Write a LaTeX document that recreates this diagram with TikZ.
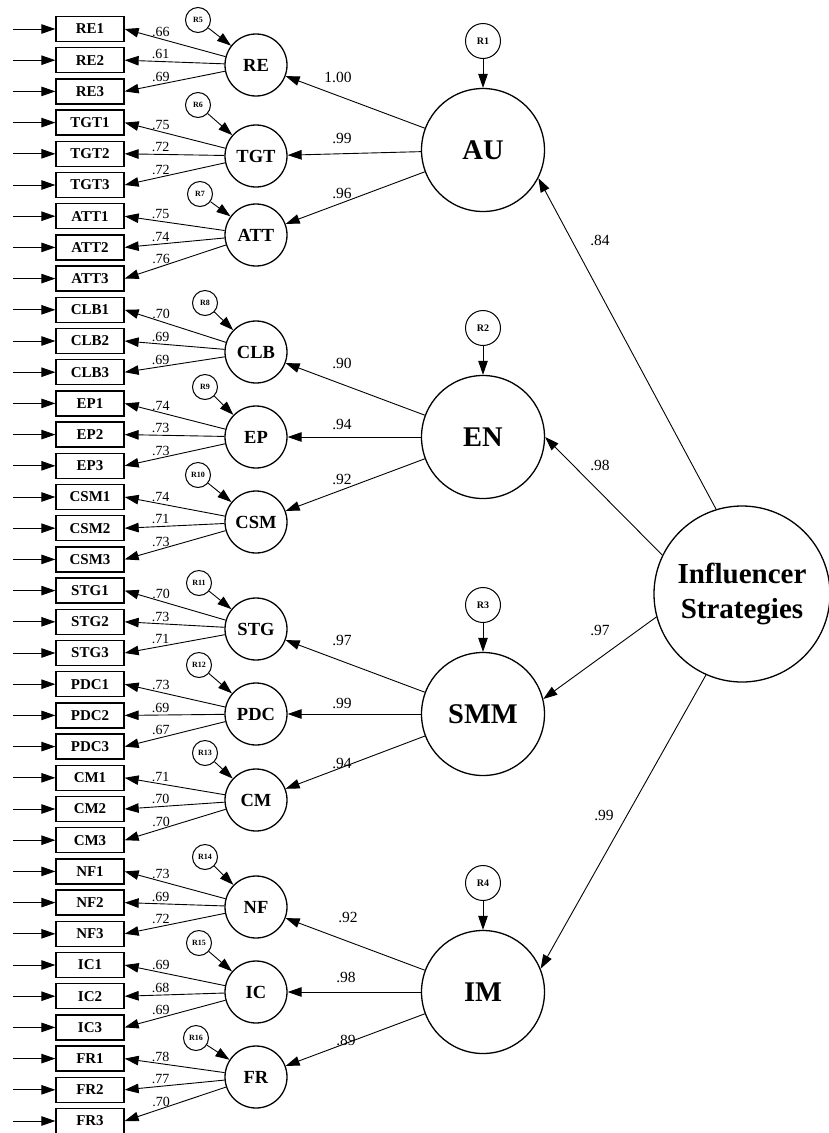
\documentclass[tikz,border=0pt]{standalone}
\usepackage{fontspec}
\setmainfont{Liberation Serif}
\usetikzlibrary{arrows.meta}
\tikzset{>={Triangle[length=14pt,width=9.5pt]},
  ind/.style={draw,line width=1.3pt,minimum width=68pt,minimum height=25pt,inner sep=0pt,font=\bfseries\fontsize{15}{15}\selectfont},
  fac/.style={circle,draw,line width=1.3pt,minimum size=62pt,inner sep=0pt,font=\bfseries\fontsize{18.5}{18.5}\selectfont},
  err/.style={circle,draw,line width=1pt,minimum size=25pt,inner sep=0pt,font=\bfseries\fontsize{8}{8}\selectfont},
  bigerr/.style={err,minimum size=35pt,font=\bfseries\fontsize{10}{10}\selectfont},
  big/.style={circle,draw,line width=1.3pt,minimum size=123pt,inner sep=0pt,font=\bfseries\fontsize{28.5}{28.5}\selectfont},
  top/.style={circle,draw,line width=1.3pt,minimum size=176pt,inner sep=0pt,align=center,font=\bfseries\fontsize{29}{35}\selectfont},
  num/.style={font=\fontsize{14}{14}\selectfont,inner sep=1pt},
  num2/.style={font=\fontsize{15.5}{15.5}\selectfont,inner sep=0pt}}
\begin{document}
\begin{tikzpicture}[x=1pt,y=-1pt,line width=.9pt]
\useasboundingbox (0,0) rectangle (829,1133);
% second order factors
\node[top] (IS) at (742,594) {Influencer\\Strategies};
\foreach \s/\y/\r in {AU/150/1,EN/437/2,SMM/714/3,IM/992/4}{
  \node[big] (\s) at (483,\y) {\s};
  \node[bigerr] (R\r) at (483,\y-109) {R\r};
  \draw[->] (R\r) -- (\s);}
% first order factors and items
\foreach \f/\y/\r/\rx/\ry/\row/\la/\lb/\lc in {RE/65/5/198/20/0/.66/.61/.69,TGT/156/6/198/105/3/.75/.72/.72,
  ATT/235/7/200/194/6/.75/.74/.76,CLB/352/8/205/303/9/.70/.69/.69,EP/437/9/205/387/12/.74/.73/.73,
  CSM/522/10/198/475/15/.74/.71/.73,STG/629/11/199/583/18/.70/.73/.71,PDC/714/12/199/665/21/.73/.69/.67,
  CM/800/13/205/753/24/.71/.70/.70,NF/907/14/205/857/27/.73/.69/.72,IC/992/15/199/943/30/.69/.68/.69,
  FR/1077/16/196/1038/33/.78/.77/.70}{
  \node[fac] (\f) at (256,\y) {\f};
  \node[err] (R\r) at (\rx,\ry) {R\r};
  \draw[->] (R\r) -- (\f);
  \foreach \k/\l in {1/\la,2/\lb,3/\lc}{
    \pgfmathsetmacro\yy{29+31.2*(\row+\k-1)}
    \node[ind] (\f\k) at (90,\yy) {\f\k};
    \coordinate (s\f\k) at (13,\yy);
    \draw[->] (s\f\k) -- (\f\k);
    \draw[->] (\f) -- node[num,pos=.64,above=1pt] (v\f\k) {\l} (\f\k.east);}}
% second order loadings
\foreach \a/\b/\v/\lx/\ly in {AU/RE/1.00/338/77,AU/TGT/.99/342/138,AU/ATT/.96/342/193,
  EN/CLB/.90/342/363,EN/EP/.94/342/424,EN/CSM/.92/342/479,SMM/STG/.97/342/640,SMM/PDC/.99/342/703,
  SMM/CM/.94/342/763,IM/NF/.92/348/917,IM/IC/.98/346/977,IM/FR/.89/346/1040}{
  \draw[->] (\a) -- (\b);
  \node[num2] (v\a\b) at (\lx,\ly) {\v};}
% structural paths
\draw[->] (IS.107) -- (AU.-27);
\draw[->] (IS.154) -- (EN.0);
\draw[->] (IS.195) -- (SMM.14);
\draw[->] (IS.246) -- (IM.22);
\foreach \s/\v/\lx/\ly in {AU/.84/600/240,EN/.98/600/465,SMM/.97/600/630,IM/.99/604/815}
  \node[num2] (g\s) at (\lx,\ly) {\v};
\end{tikzpicture}
\end{document}
